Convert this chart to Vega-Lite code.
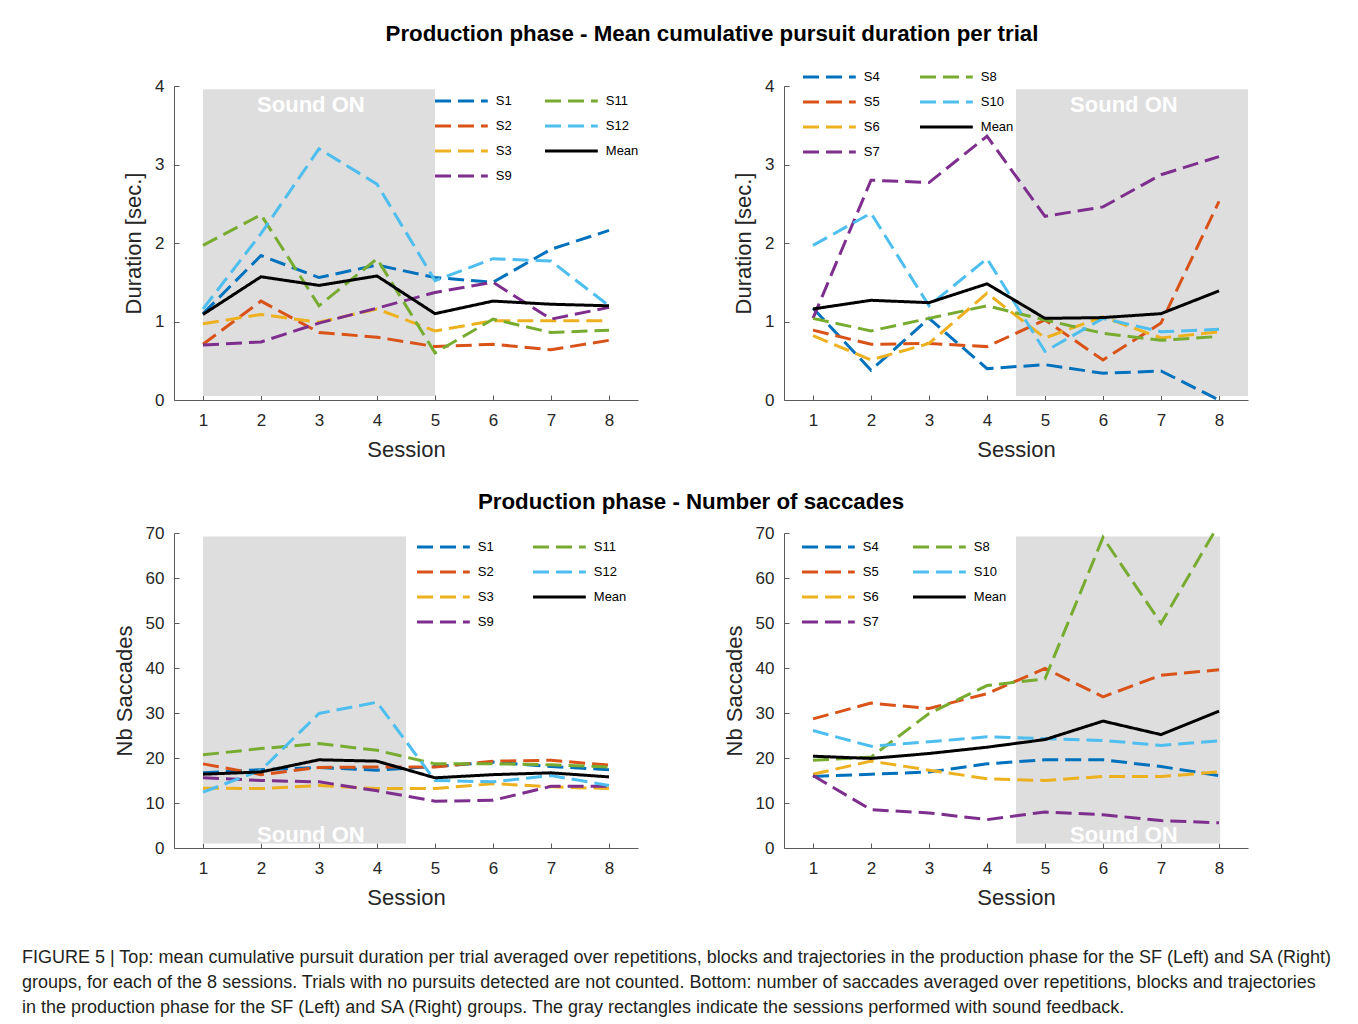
{
  "$schema": "https://vega.github.io/schema/vega-lite/v6.json",
  "background": "white",
  "padding": {"left": 22, "top": 22, "right": 5, "bottom": 5},
  "datasets": {
    "dur_sf": [
      {"subject":"S1","session":1,"value":1.10},{"subject":"S1","session":2,"value":1.84},{"subject":"S1","session":3,"value":1.56},{"subject":"S1","session":4,"value":1.72},{"subject":"S1","session":5,"value":1.56},{"subject":"S1","session":6,"value":1.50},{"subject":"S1","session":7,"value":1.92},{"subject":"S1","session":8,"value":2.16},
      {"subject":"S2","session":1,"value":0.71},{"subject":"S2","session":2,"value":1.26},{"subject":"S2","session":3,"value":0.86},{"subject":"S2","session":4,"value":0.80},{"subject":"S2","session":5,"value":0.68},{"subject":"S2","session":6,"value":0.71},{"subject":"S2","session":7,"value":0.64},{"subject":"S2","session":8,"value":0.76},
      {"subject":"S3","session":1,"value":0.97},{"subject":"S3","session":2,"value":1.09},{"subject":"S3","session":3,"value":0.99},{"subject":"S3","session":4,"value":1.16},{"subject":"S3","session":5,"value":0.88},{"subject":"S3","session":6,"value":1.01},{"subject":"S3","session":7,"value":1.01},{"subject":"S3","session":8,"value":1.01},
      {"subject":"S9","session":1,"value":0.70},{"subject":"S9","session":2,"value":0.74},{"subject":"S9","session":3,"value":0.98},{"subject":"S9","session":4,"value":1.17},{"subject":"S9","session":5,"value":1.37},{"subject":"S9","session":6,"value":1.50},{"subject":"S9","session":7,"value":1.03},{"subject":"S9","session":8,"value":1.18},
      {"subject":"S11","session":1,"value":1.97},{"subject":"S11","session":2,"value":2.36},{"subject":"S11","session":3,"value":1.20},{"subject":"S11","session":4,"value":1.80},{"subject":"S11","session":5,"value":0.60},{"subject":"S11","session":6,"value":1.03},{"subject":"S11","session":7,"value":0.86},{"subject":"S11","session":8,"value":0.89},
      {"subject":"S12","session":1,"value":1.16},{"subject":"S12","session":2,"value":2.12},{"subject":"S12","session":3,"value":3.20},{"subject":"S12","session":4,"value":2.75},{"subject":"S12","session":5,"value":1.52},{"subject":"S12","session":6,"value":1.80},{"subject":"S12","session":7,"value":1.77},{"subject":"S12","session":8,"value":1.20},
      {"subject":"Mean","session":1,"value":1.09},{"subject":"Mean","session":2,"value":1.57},{"subject":"Mean","session":3,"value":1.46},{"subject":"Mean","session":4,"value":1.58},{"subject":"Mean","session":5,"value":1.10},{"subject":"Mean","session":6,"value":1.26},{"subject":"Mean","session":7,"value":1.22},{"subject":"Mean","session":8,"value":1.20}
    ],
    "dur_sa": [
      {"subject":"S4","session":1,"value":1.17},{"subject":"S4","session":2,"value":0.38},{"subject":"S4","session":3,"value":1.04},{"subject":"S4","session":4,"value":0.40},{"subject":"S4","session":5,"value":0.45},{"subject":"S4","session":6,"value":0.34},{"subject":"S4","session":7,"value":0.37},{"subject":"S4","session":8,"value":0.0},
      {"subject":"S5","session":1,"value":0.89},{"subject":"S5","session":2,"value":0.71},{"subject":"S5","session":3,"value":0.72},{"subject":"S5","session":4,"value":0.68},{"subject":"S5","session":5,"value":1.02},{"subject":"S5","session":6,"value":0.51},{"subject":"S5","session":7,"value":0.98},{"subject":"S5","session":8,"value":2.53},
      {"subject":"S6","session":1,"value":0.82},{"subject":"S6","session":2,"value":0.51},{"subject":"S6","session":3,"value":0.72},{"subject":"S6","session":4,"value":1.36},{"subject":"S6","session":5,"value":0.79},{"subject":"S6","session":6,"value":1.06},{"subject":"S6","session":7,"value":0.79},{"subject":"S6","session":8,"value":0.87},
      {"subject":"S7","session":1,"value":1.04},{"subject":"S7","session":2,"value":2.80},{"subject":"S7","session":3,"value":2.77},{"subject":"S7","session":4,"value":3.36},{"subject":"S7","session":5,"value":2.34},{"subject":"S7","session":6,"value":2.46},{"subject":"S7","session":7,"value":2.87},{"subject":"S7","session":8,"value":3.10},
      {"subject":"S8","session":1,"value":1.04},{"subject":"S8","session":2,"value":0.88},{"subject":"S8","session":3,"value":1.04},{"subject":"S8","session":4,"value":1.20},{"subject":"S8","session":5,"value":1.02},{"subject":"S8","session":6,"value":0.85},{"subject":"S8","session":7,"value":0.76},{"subject":"S8","session":8,"value":0.81},
      {"subject":"S10","session":1,"value":1.97},{"subject":"S10","session":2,"value":2.38},{"subject":"S10","session":3,"value":1.20},{"subject":"S10","session":4,"value":1.80},{"subject":"S10","session":5,"value":0.62},{"subject":"S10","session":6,"value":1.04},{"subject":"S10","session":7,"value":0.87},{"subject":"S10","session":8,"value":0.90},
      {"subject":"Mean","session":1,"value":1.16},{"subject":"Mean","session":2,"value":1.27},{"subject":"Mean","session":3,"value":1.24},{"subject":"Mean","session":4,"value":1.48},{"subject":"Mean","session":5,"value":1.04},{"subject":"Mean","session":6,"value":1.05},{"subject":"Mean","session":7,"value":1.10},{"subject":"Mean","session":8,"value":1.39}
    ],
    "sac_sf": [
      {"subject":"S1","session":1,"value":16.7},{"subject":"S1","session":2,"value":17.4},{"subject":"S1","session":3,"value":17.9},{"subject":"S1","session":4,"value":17.3},{"subject":"S1","session":5,"value":18.1},{"subject":"S1","session":6,"value":19.1},{"subject":"S1","session":7,"value":18.1},{"subject":"S1","session":8,"value":17.4},
      {"subject":"S2","session":1,"value":18.7},{"subject":"S2","session":2,"value":16.3},{"subject":"S2","session":3,"value":17.9},{"subject":"S2","session":4,"value":18.0},{"subject":"S2","session":5,"value":18.0},{"subject":"S2","session":6,"value":19.3},{"subject":"S2","session":7,"value":19.5},{"subject":"S2","session":8,"value":18.4},
      {"subject":"S3","session":1,"value":13.3},{"subject":"S3","session":2,"value":13.2},{"subject":"S3","session":3,"value":13.9},{"subject":"S3","session":4,"value":13.2},{"subject":"S3","session":5,"value":13.2},{"subject":"S3","session":6,"value":14.3},{"subject":"S3","session":7,"value":13.6},{"subject":"S3","session":8,"value":13.2},
      {"subject":"S9","session":1,"value":15.6},{"subject":"S9","session":2,"value":15.0},{"subject":"S9","session":3,"value":14.7},{"subject":"S9","session":4,"value":12.7},{"subject":"S9","session":5,"value":10.4},{"subject":"S9","session":6,"value":10.6},{"subject":"S9","session":7,"value":13.7},{"subject":"S9","session":8,"value":13.7},
      {"subject":"S11","session":1,"value":20.7},{"subject":"S11","session":2,"value":22.1},{"subject":"S11","session":3,"value":23.2},{"subject":"S11","session":4,"value":21.7},{"subject":"S11","session":5,"value":18.7},{"subject":"S11","session":6,"value":18.7},{"subject":"S11","session":7,"value":18.5},{"subject":"S11","session":8,"value":18.0},
      {"subject":"S12","session":1,"value":12.4},{"subject":"S12","session":2,"value":17.3},{"subject":"S12","session":3,"value":29.9},{"subject":"S12","session":4,"value":32.4},{"subject":"S12","session":5,"value":15.0},{"subject":"S12","session":6,"value":14.7},{"subject":"S12","session":7,"value":16.1},{"subject":"S12","session":8,"value":13.9},
      {"subject":"Mean","session":1,"value":16.4},{"subject":"Mean","session":2,"value":16.9},{"subject":"Mean","session":3,"value":19.6},{"subject":"Mean","session":4,"value":19.3},{"subject":"Mean","session":5,"value":15.6},{"subject":"Mean","session":6,"value":16.3},{"subject":"Mean","session":7,"value":16.7},{"subject":"Mean","session":8,"value":15.8}
    ],
    "sac_sa": [
      {"subject":"S4","session":1,"value":15.9},{"subject":"S4","session":2,"value":16.4},{"subject":"S4","session":3,"value":16.9},{"subject":"S4","session":4,"value":18.7},{"subject":"S4","session":5,"value":19.6},{"subject":"S4","session":6,"value":19.6},{"subject":"S4","session":7,"value":18.1},{"subject":"S4","session":8,"value":16.1},
      {"subject":"S5","session":1,"value":28.7},{"subject":"S5","session":2,"value":32.2},{"subject":"S5","session":3,"value":31.0},{"subject":"S5","session":4,"value":34.3},{"subject":"S5","session":5,"value":39.9},{"subject":"S5","session":6,"value":33.6},{"subject":"S5","session":7,"value":38.4},{"subject":"S5","session":8,"value":39.6},
      {"subject":"S6","session":1,"value":16.4},{"subject":"S6","session":2,"value":19.3},{"subject":"S6","session":3,"value":17.3},{"subject":"S6","session":4,"value":15.4},{"subject":"S6","session":5,"value":15.0},{"subject":"S6","session":6,"value":15.9},{"subject":"S6","session":7,"value":15.9},{"subject":"S6","session":8,"value":16.9},
      {"subject":"S7","session":1,"value":16.1},{"subject":"S7","session":2,"value":8.5},{"subject":"S7","session":3,"value":7.8},{"subject":"S7","session":4,"value":6.3},{"subject":"S7","session":5,"value":8.0},{"subject":"S7","session":6,"value":7.4},{"subject":"S7","session":7,"value":6.1},{"subject":"S7","session":8,"value":5.6},
      {"subject":"S8","session":1,"value":19.5},{"subject":"S8","session":2,"value":20.2},{"subject":"S8","session":3,"value":29.9},{"subject":"S8","session":4,"value":36.1},{"subject":"S8","session":5,"value":37.6},{"subject":"S8","session":6,"value":69.0},{"subject":"S8","session":7,"value":49.9},{"subject":"S8","session":8,"value":72.0},
      {"subject":"S10","session":1,"value":26.1},{"subject":"S10","session":2,"value":22.6},{"subject":"S10","session":3,"value":23.6},{"subject":"S10","session":4,"value":24.7},{"subject":"S10","session":5,"value":24.3},{"subject":"S10","session":6,"value":23.9},{"subject":"S10","session":7,"value":22.8},{"subject":"S10","session":8,"value":23.8},
      {"subject":"Mean","session":1,"value":20.4},{"subject":"Mean","session":2,"value":19.9},{"subject":"Mean","session":3,"value":21.0},{"subject":"Mean","session":4,"value":22.4},{"subject":"Mean","session":5,"value":24.1},{"subject":"Mean","session":6,"value":28.2},{"subject":"Mean","session":7,"value":25.2},{"subject":"Mean","session":8,"value":30.4}
    ]
  },
  "columns": 3,
  "spacing": {"row": 133, "column": 146},
  "bounds": "flush",
  "align": "each",
  "resolve": {
    "scale": {"color": "independent", "strokeDash": "independent", "x": "independent", "y": "independent"},
    "legend": {"color": "independent", "strokeDash": "independent"},
    "axis": {"x": "independent", "y": "independent"}
  },
  "concat": [
    {
      "width": 6, "height": 314,
      "data": {"values": []},
      "mark": "point",
      "title": {"text": "Production phase - Mean cumulative pursuit duration per trial", "orient": "top", "anchor": "middle", "frame": "group", "dx": 687, "offset": 18, "baseline": "bottom", "fontSize": 22.3, "fontWeight": "bold", "color": "#000000", "font": "Liberation Sans"}
    },
    {
      "width": 464, "height": 314,
      "layer": [
        {
          "data": {"values": [{}]},
          "mark": {"type": "rect", "color": "#dedede"},
          "encoding": {
            "x": {"datum": 1, "type": "quantitative", "scale": {"domain": [0.5, 8.5], "nice": false}, "axis": {"values": [1,2,3,4,5,6,7,8], "title": "Session", "format": "d"}},
            "x2": {"datum": 5},
            "y": {"datum": 0.05, "type": "quantitative", "scale": {"domain": [0, 4], "nice": false}, "axis": {"values": [0,1,2,3,4], "title": "Duration [sec.]", "format": "d"}},
            "y2": {"datum": 3.96}
          }
        },
        {
          "data": {"values": [{}]},
          "mark": {"type": "text", "text": "Sound ON", "color": "white", "fontWeight": "bold", "fontSize": 22, "font": "Liberation Sans", "baseline": "middle", "align": "center"},
          "encoding": {
            "x": {"datum": 2.86, "type": "quantitative", "scale": {"domain": [0.5, 8.5], "nice": false}, "axis": {"values": [1,2,3,4,5,6,7,8], "title": "Session", "format": "d"}},
            "y": {"datum": 3.76, "type": "quantitative", "scale": {"domain": [0, 4], "nice": false}, "axis": {"values": [0,1,2,3,4], "title": "Duration [sec.]", "format": "d"}}
          }
        },
        {
          "data": {"name": "dur_sf"},
          "mark": {"type": "line", "strokeWidth": 3, "strokeCap": "butt"},
          "encoding": {
            "x": {"field": "session", "type": "quantitative", "scale": {"domain": [0.5, 8.5], "nice": false}, "axis": {"values": [1,2,3,4,5,6,7,8], "title": "Session", "format": "d"}},
            "y": {"field": "value", "type": "quantitative", "scale": {"domain": [0, 4], "nice": false}, "axis": {"values": [0,1,2,3,4], "title": "Duration [sec.]", "format": "d"}},
            "color": {"field": "subject", "type": "nominal",
              "scale": {"domain": ["S1","S2","S3","S9","S11","S12","Mean"], "range": ["#0072BD","#D95319","#EDB120","#7E2F8E","#77AC30","#4DBEEE","#000000"]},
              "legend": {"orient": "none", "legendX": 269.4, "legendY": -3, "columns": 2, "columnPadding": 26, "title": null, "symbolType": "M-1.6,0H1.6", "symbolSize": 1089}},
            "strokeDash": {"field": "subject", "type": "nominal",
              "scale": {"domain": ["S1","S2","S3","S9","S11","S12","Mean"], "range": [[16,7],[16,7],[16,7],[16,7],[16,7],[16,7],[1,0]]},
              "legend": {"orient": "none", "legendX": 269.4, "legendY": -3, "columns": 2, "columnPadding": 26, "title": null, "symbolType": "M-1.6,0H1.6", "symbolSize": 1089}}
          }
        }
      ]
    },
    {
      "width": 464, "height": 314,
      "layer": [
        {
          "data": {"values": [{}]},
          "mark": {"type": "rect", "color": "#dedede"},
          "encoding": {
            "x": {"datum": 4.5, "type": "quantitative", "scale": {"domain": [0.5, 8.5], "nice": false}, "axis": {"values": [1,2,3,4,5,6,7,8], "title": "Session", "format": "d"}},
            "x2": {"datum": 8.5},
            "y": {"datum": 0.05, "type": "quantitative", "scale": {"domain": [0, 4], "nice": false}, "axis": {"values": [0,1,2,3,4], "title": "Duration [sec.]", "format": "d"}},
            "y2": {"datum": 3.96}
          }
        },
        {
          "data": {"values": [{}]},
          "mark": {"type": "text", "text": "Sound ON", "color": "white", "fontWeight": "bold", "fontSize": 22, "font": "Liberation Sans", "baseline": "middle", "align": "center"},
          "encoding": {
            "x": {"datum": 6.36, "type": "quantitative", "scale": {"domain": [0.5, 8.5], "nice": false}, "axis": {"values": [1,2,3,4,5,6,7,8], "title": "Session", "format": "d"}},
            "y": {"datum": 3.76, "type": "quantitative", "scale": {"domain": [0, 4], "nice": false}, "axis": {"values": [0,1,2,3,4], "title": "Duration [sec.]", "format": "d"}}
          }
        },
        {
          "data": {"name": "dur_sa"},
          "mark": {"type": "line", "strokeWidth": 3, "strokeCap": "butt"},
          "encoding": {
            "x": {"field": "session", "type": "quantitative", "scale": {"domain": [0.5, 8.5], "nice": false}, "axis": {"values": [1,2,3,4,5,6,7,8], "title": "Session", "format": "d"}},
            "y": {"field": "value", "type": "quantitative", "scale": {"domain": [0, 4], "nice": false}, "axis": {"values": [0,1,2,3,4], "title": "Duration [sec.]", "format": "d"}},
            "color": {"field": "subject", "type": "nominal",
              "scale": {"domain": ["S4","S5","S6","S7","S8","S10","Mean"], "range": ["#0072BD","#D95319","#EDB120","#7E2F8E","#77AC30","#4DBEEE","#000000"]},
              "legend": {"orient": "none", "legendX": 27.4, "legendY": -27, "columns": 2, "columnPadding": 33, "title": null, "symbolType": "M-1.6,0H1.6", "symbolSize": 1089}},
            "strokeDash": {"field": "subject", "type": "nominal",
              "scale": {"domain": ["S4","S5","S6","S7","S8","S10","Mean"], "range": [[16,7],[16,7],[16,7],[16,7],[16,7],[16,7],[1,0]]},
              "legend": {"orient": "none", "legendX": 27.4, "legendY": -27, "columns": 2, "columnPadding": 33, "title": null, "symbolType": "M-1.6,0H1.6", "symbolSize": 1089}}
          }
        }
      ]
    },
    {
      "width": 6, "height": 315,
      "data": {"values": []},
      "mark": "point",
      "title": {"text": "Production phase - Number of saccades", "orient": "top", "anchor": "middle", "frame": "group", "dx": 666, "offset": -3, "baseline": "bottom", "fontSize": 22.3, "fontWeight": "bold", "color": "#000000", "font": "Liberation Sans"}
    },
    {
      "width": 464, "height": 315,
      "layer": [
        {
          "data": {"values": [{}]},
          "mark": {"type": "rect", "color": "#dedede"},
          "encoding": {
            "x": {"datum": 1, "type": "quantitative", "scale": {"domain": [0.5, 8.5], "nice": false}, "axis": {"values": [1,2,3,4,5,6,7,8], "title": "Session", "format": "d"}},
            "x2": {"datum": 4.5},
            "y": {"datum": 1, "type": "quantitative", "scale": {"domain": [0, 70], "nice": false}, "axis": {"values": [0,10,20,30,40,50,60,70], "title": "Nb Saccades", "format": "d"}},
            "y2": {"datum": 69.2}
          }
        },
        {
          "data": {"values": [{}]},
          "mark": {"type": "text", "text": "Sound ON", "color": "white", "fontWeight": "bold", "fontSize": 22, "font": "Liberation Sans", "baseline": "middle", "align": "center"},
          "encoding": {
            "x": {"datum": 2.86, "type": "quantitative", "scale": {"domain": [0.5, 8.5], "nice": false}, "axis": {"values": [1,2,3,4,5,6,7,8], "title": "Session", "format": "d"}},
            "y": {"datum": 2.9, "type": "quantitative", "scale": {"domain": [0, 70], "nice": false}, "axis": {"values": [0,10,20,30,40,50,60,70], "title": "Nb Saccades", "format": "d"}}
          }
        },
        {
          "data": {"name": "sac_sf"},
          "mark": {"type": "line", "strokeWidth": 3, "strokeCap": "butt"},
          "encoding": {
            "x": {"field": "session", "type": "quantitative", "scale": {"domain": [0.5, 8.5], "nice": false}, "axis": {"values": [1,2,3,4,5,6,7,8], "title": "Session", "format": "d"}},
            "y": {"field": "value", "type": "quantitative", "scale": {"domain": [0, 70], "nice": false}, "axis": {"values": [0,10,20,30,40,50,60,70], "title": "Nb Saccades", "format": "d"}},
            "color": {"field": "subject", "type": "nominal",
              "scale": {"domain": ["S1","S2","S3","S9","S11","S12","Mean"], "range": ["#0072BD","#D95319","#EDB120","#7E2F8E","#77AC30","#4DBEEE","#000000"]},
              "legend": {"orient": "none", "legendX": 251.4, "legendY": -4, "columns": 2, "columnPadding": 32, "title": null, "symbolType": "M-1.6,0H1.6", "symbolSize": 1089}},
            "strokeDash": {"field": "subject", "type": "nominal",
              "scale": {"domain": ["S1","S2","S3","S9","S11","S12","Mean"], "range": [[16,7],[16,7],[16,7],[16,7],[16,7],[16,7],[1,0]]},
              "legend": {"orient": "none", "legendX": 251.4, "legendY": -4, "columns": 2, "columnPadding": 32, "title": null, "symbolType": "M-1.6,0H1.6", "symbolSize": 1089}}
          }
        }
      ]
    },
    {
      "width": 464, "height": 315,
      "layer": [
        {
          "data": {"values": [{}]},
          "mark": {"type": "rect", "color": "#dedede"},
          "encoding": {
            "x": {"datum": 4.5, "type": "quantitative", "scale": {"domain": [0.5, 8.5], "nice": false}, "axis": {"values": [1,2,3,4,5,6,7,8], "title": "Session", "format": "d"}},
            "x2": {"datum": 8.02},
            "y": {"datum": 1, "type": "quantitative", "scale": {"domain": [0, 70], "nice": false}, "axis": {"values": [0,10,20,30,40,50,60,70], "title": "Nb Saccades", "format": "d"}},
            "y2": {"datum": 69.2}
          }
        },
        {
          "data": {"values": [{}]},
          "mark": {"type": "text", "text": "Sound ON", "color": "white", "fontWeight": "bold", "fontSize": 22, "font": "Liberation Sans", "baseline": "middle", "align": "center"},
          "encoding": {
            "x": {"datum": 6.36, "type": "quantitative", "scale": {"domain": [0.5, 8.5], "nice": false}, "axis": {"values": [1,2,3,4,5,6,7,8], "title": "Session", "format": "d"}},
            "y": {"datum": 2.9, "type": "quantitative", "scale": {"domain": [0, 70], "nice": false}, "axis": {"values": [0,10,20,30,40,50,60,70], "title": "Nb Saccades", "format": "d"}}
          }
        },
        {
          "data": {"name": "sac_sa"},
          "mark": {"type": "line", "strokeWidth": 3, "strokeCap": "butt", "clip": true},
          "encoding": {
            "x": {"field": "session", "type": "quantitative", "scale": {"domain": [0.5, 8.5], "nice": false}, "axis": {"values": [1,2,3,4,5,6,7,8], "title": "Session", "format": "d"}},
            "y": {"field": "value", "type": "quantitative", "scale": {"domain": [0, 70], "nice": false}, "axis": {"values": [0,10,20,30,40,50,60,70], "title": "Nb Saccades", "format": "d"}},
            "color": {"field": "subject", "type": "nominal",
              "scale": {"domain": ["S4","S5","S6","S7","S8","S10","Mean"], "range": ["#0072BD","#D95319","#EDB120","#7E2F8E","#77AC30","#4DBEEE","#000000"]},
              "legend": {"orient": "none", "legendX": 26.4, "legendY": -4, "columns": 2, "columnPadding": 27, "title": null, "symbolType": "M-1.6,0H1.6", "symbolSize": 1089}},
            "strokeDash": {"field": "subject", "type": "nominal",
              "scale": {"domain": ["S4","S5","S6","S7","S8","S10","Mean"], "range": [[16,7],[16,7],[16,7],[16,7],[16,7],[16,7],[1,0]]},
              "legend": {"orient": "none", "legendX": 26.4, "legendY": -4, "columns": 2, "columnPadding": 27, "title": null, "symbolType": "M-1.6,0H1.6", "symbolSize": 1089}}
          }
        }
      ]
    },
    {
      "width": 6, "height": 10,
      "data": {"values": []},
      "mark": "point",
      "title": {
        "text": [
          "FIGURE 5 | Top: mean cumulative pursuit duration per trial averaged over repetitions, blocks and trajectories in the production phase for the SF (Left) and SA (Right)",
          "groups, for each of the 8 sessions. Trials with no pursuits detected are not counted. Bottom: number of saccades averaged over repetitions, blocks and trajectories",
          "in the production phase for the SF (Left) and SA (Right) groups. The gray rectangles indicate the sessions performed with sound feedback."
        ],
        "orient": "bottom", "anchor": "start", "frame": "group", "offset": -42, "baseline": "top",
        "fontSize": 18, "fontWeight": "normal", "lineHeight": 25, "color": "#231f20", "font": "Liberation Sans"
      }
    }
  ],
  "config": {
    "view": {"stroke": null},
    "font": "Liberation Sans",
    "axis": {
      "grid": false, "domainColor": "#5a5a5a", "tickColor": "#5a5a5a", "domainWidth": 1, "tickWidth": 1,
      "tickSize": -5, "labelFont": "Liberation Sans", "labelFontSize": 17, "labelColor": "#262626",
      "titleFont": "Liberation Sans", "titleFontSize": 22, "titleFontWeight": "normal", "titleColor": "#262626",
      "labelFlush": false, "labelOverlap": false, "zindex": 1
    },
    "axisX": {"labelPadding": 17, "titlePadding": 11},
    "axisY": {"labelPadding": 15, "titlePadding": 9},
    "legend": {
      "symbolStrokeWidth": 3, "labelOffset": 16.4, "rowPadding": 0,
      "labelFont": "Liberation Sans", "labelFontSize": 13, "labelColor": "#000000", "padding": 0,
      "labelLimit": 0
    }
  }
}
